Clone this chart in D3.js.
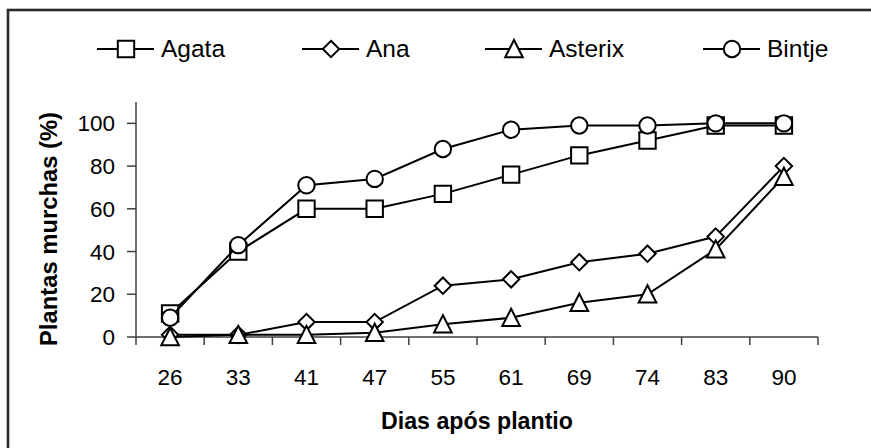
<!DOCTYPE html>
<html>
<head>
<meta charset="utf-8">
<script src="https://cdn.jsdelivr.net/npm/d3@7"></script>
<style>
  html, body { margin: 0; padding: 0; background: #fff; }
  svg { display: block; font-family: Arial, "Liberation Sans", sans-serif; }
</style>
</head>
<body>
<svg id="chart" width="871" height="448"></svg>
<script>
// ---- data ----
const categories = ["26", "33", "41", "47", "55", "61", "69", "74", "83", "90"];
const seriesNames = ["Agata", "Ana", "Asterix", "Bintje"];
const agata   = [11, 40, 60, 60, 67, 76, 85, 92, 99, 99];
const ana     = [1, 1, 7, 7, 24, 27, 35, 39, 47, 80];
const asterix = [0, 1, 1, 2, 6, 9, 16, 20, 41, 75];
const bintje  = [9, 43, 71, 74, 88, 97, 99, 99, 100, 100];
const yTicks  = [0, 20, 40, 60, 80, 100];
const xTitle = "Dias após plantio";
const yTitle = "Plantas murchas (%)";

const seriesValues = [agata, ana, asterix, bintje];
const markerTypes = ["square", "diamond", "triangle", "circle"];

// ---- layout ----
const svg = d3.select("#chart");
const plot = { left: 136, right: 818, top: 102, bottom: 337 };

// outer frame (right/bottom edges beyond the picture)
svg.append("rect")
  .attr("x", 8).attr("y", 10)
  .attr("width", 900).attr("height", 500)
  .attr("fill", "none").attr("stroke", "#2a2a2a").attr("stroke-width", 2.6);

const x = d3.scaleBand().domain(categories).range([plot.left, plot.right]).padding(0);
const y = d3.scaleLinear().domain([0, 110]).range([plot.bottom, plot.top]);

// Excel-like marker shapes (~16-17px across)
function symbolPath(type) {
  const p = d3.path();
  const h = 8.2;
  if (type === "square") {
    p.rect(-h, -h, 2 * h, 2 * h);
  } else if (type === "diamond") {
    p.moveTo(0, -h); p.lineTo(h, 0); p.lineTo(0, h); p.lineTo(-h, 0); p.closePath();
  } else if (type === "triangle") {
    p.moveTo(0, -9); p.lineTo(8.8, 8.2); p.lineTo(-8.8, 8.2); p.closePath();
  } else {
    p.moveTo(h, 0); p.arc(0, 0, h, 0, 2 * Math.PI); p.closePath();
  }
  return p.toString();
}

// ---- axes ----
const axisColor = "#404040";
// y axis
const yAxis = svg.append("g").attr("transform", `translate(${plot.left},0)`);
yAxis.append("line")
  .attr("x1", 0).attr("x2", 0)
  .attr("y1", y(110)).attr("y2", y(0))
  .attr("stroke", axisColor).attr("stroke-width", 1.5);
yAxis.selectAll("line.tick").data(yTicks).enter().append("line")
  .attr("class", "tick")
  .attr("x1", -9).attr("x2", 0)
  .attr("y1", d => y(d)).attr("y2", d => y(d))
  .attr("stroke", axisColor).attr("stroke-width", 1.5);
yAxis.selectAll("text").data(yTicks).enter().append("text")
  .attr("x", -21).attr("y", d => y(d) + 8)
  .attr("text-anchor", "end")
  .attr("font-size", 22.5)
  .attr("fill", "#000")
  .text(d => d);

// x axis
const xAxis = svg.append("g").attr("transform", `translate(0,${plot.bottom})`);
xAxis.append("line")
  .attr("x1", plot.left).attr("x2", plot.right)
  .attr("y1", 0).attr("y2", 0)
  .attr("stroke", axisColor).attr("stroke-width", 1.5);
const boundaries = categories.map(c => x(c)).concat([x(categories[categories.length - 1]) + x.bandwidth()]);
xAxis.selectAll("line.tick").data(boundaries).enter().append("line")
  .attr("class", "tick")
  .attr("x1", d => d).attr("x2", d => d)
  .attr("y1", 0).attr("y2", 8)
  .attr("stroke", axisColor).attr("stroke-width", 1.5);
xAxis.selectAll("text").data(categories).enter().append("text")
  .attr("x", d => x(d) + x.bandwidth() / 2)
  .attr("y", 48)
  .attr("text-anchor", "middle")
  .attr("font-size", 22.5)
  .attr("fill", "#000")
  .text(d => d);

// axis titles
svg.append("text")
  .attr("x", 477).attr("y", 429)
  .attr("text-anchor", "middle")
  .attr("font-size", 23.2).attr("font-weight", "bold")
  .text(xTitle);
svg.append("text")
  .attr("transform", "translate(57,229) rotate(-90)")
  .attr("text-anchor", "middle")
  .attr("font-size", 23.8).attr("font-weight", "bold")
  .text(yTitle);

// ---- series ----
const line = d3.line()
  .x((d, i) => x(categories[i]) + x.bandwidth() / 2)
  .y(d => y(d));

seriesValues.forEach((vals, si) => {
  const g = svg.append("g");
  g.append("path")
    .attr("d", line(vals))
    .attr("fill", "none")
    .attr("stroke", "#000")
    .attr("stroke-width", 2);
  g.selectAll("path.m").data(vals).enter().append("path")
    .attr("class", "m")
    .attr("d", symbolPath(markerTypes[si]))
    .attr("transform", (d, i) => `translate(${x(categories[i]) + x.bandwidth() / 2},${y(d)})`)
    .attr("fill", "#fff")
    .attr("stroke", "#000")
    .attr("stroke-width", 2);
});

// ---- legend ----
const legendStarts = [97, 302, 485, 703];
const legendY = 49;
const legend = svg.append("g");
seriesNames.forEach((name, i) => {
  const x0 = legendStarts[i];
  const g = legend.append("g").attr("transform", `translate(${x0},${legendY})`);
  g.append("line")
    .attr("x1", 0).attr("x2", 57).attr("y1", 0).attr("y2", 0)
    .attr("stroke", "#000").attr("stroke-width", 2);
  g.append("path")
    .attr("d", symbolPath(markerTypes[i]))
    .attr("transform", "translate(29,0)")
    .attr("fill", "#fff").attr("stroke", "#000").attr("stroke-width", 2);
  g.append("text")
    .attr("x", 64).attr("y", 8)
    .attr("font-size", 24.5)
    .attr("fill", "#000")
    .text(name);
});
</script>
</body>
</html>
